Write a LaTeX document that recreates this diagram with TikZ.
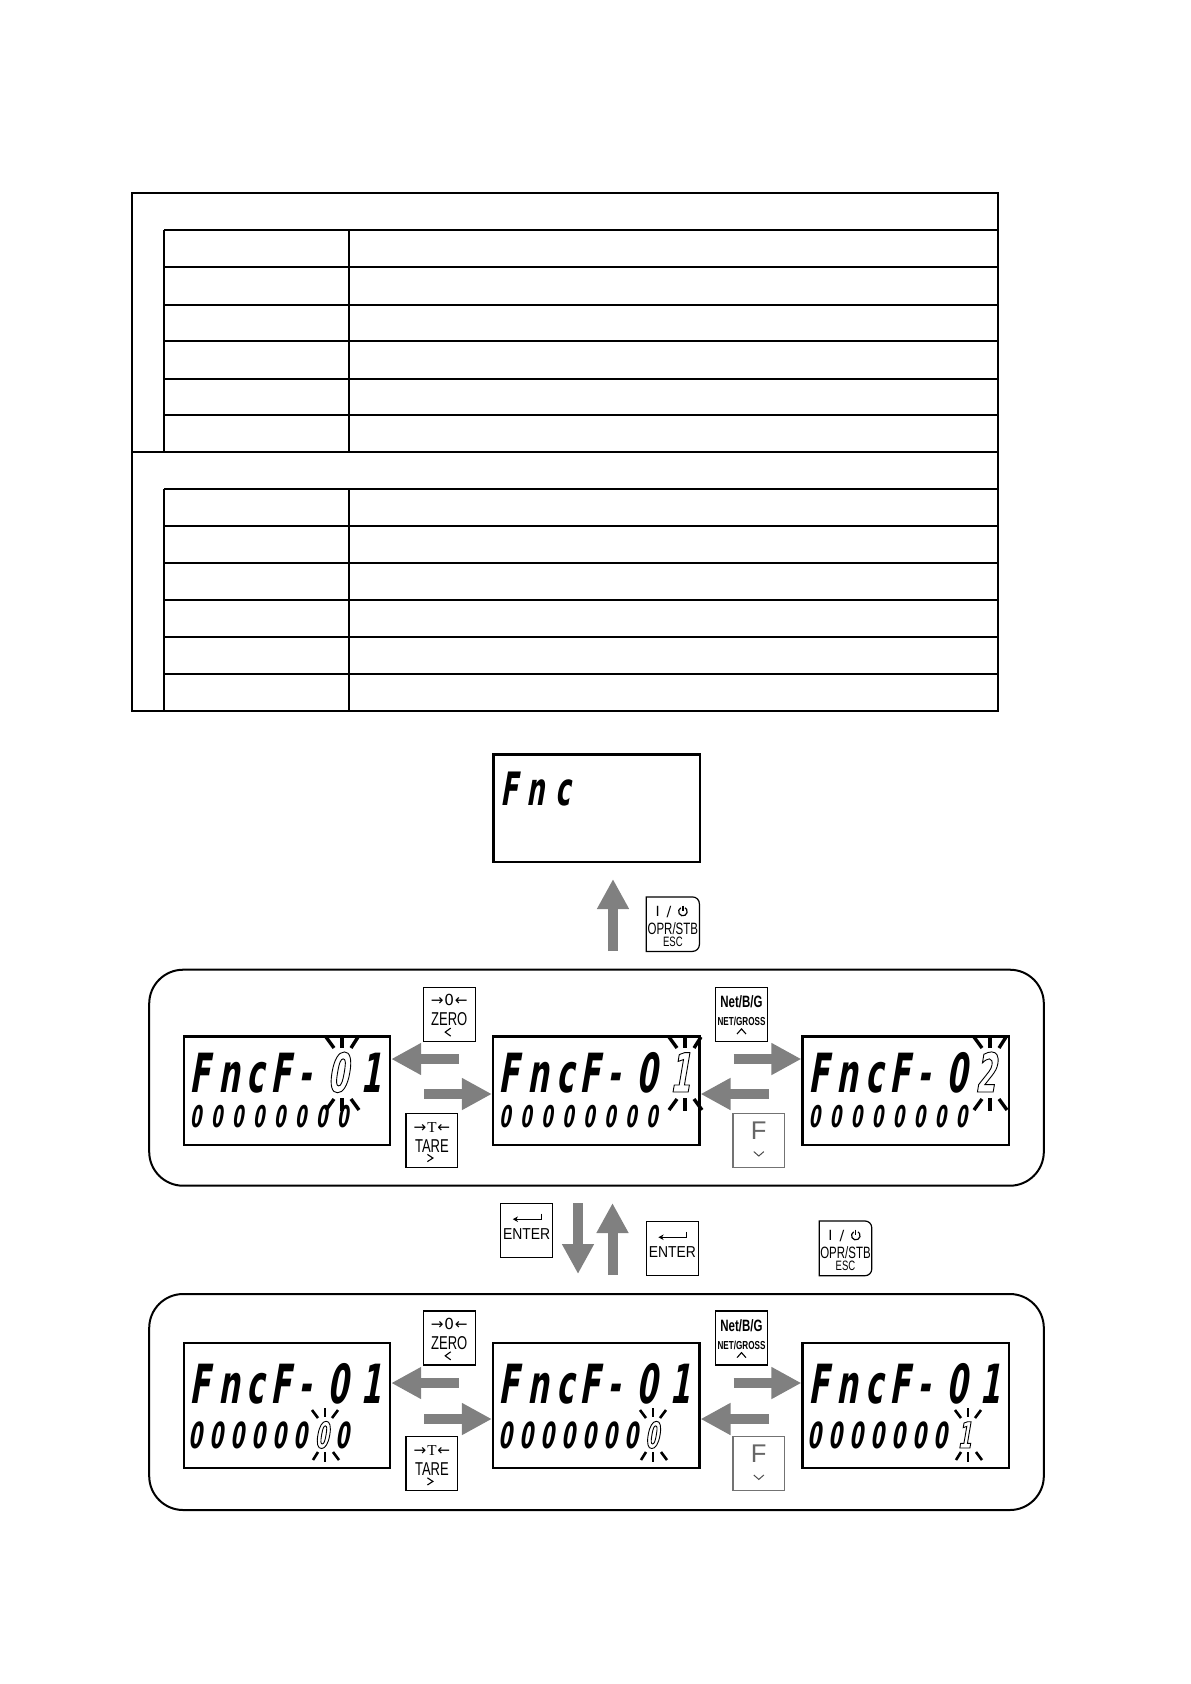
\documentclass[tikz,border=0pt]{standalone}
\usepackage{fontspec}
\setmainfont{Liberation Sans}
\newfontfamily\lcdfont[FakeSlant=0.17,FakeStretch=0.55]{DejaVu Sans}
\newfontfamily\condfont[FakeStretch=0.7]{Liberation Sans}
\newfontfamily\entfont[FakeStretch=0.88]{Liberation Sans}
\newfontfamily\dvfont{DejaVu Sans}
\newfontfamily\serfont{Liberation Serif}
\usetikzlibrary{arrows.meta,calc}
\definecolor{arrgray}{RGB}{128,128,128}
\newcommand\hollowch[1]{\special{pdf:literal direct 1 Tr 0.45 w}#1\special{pdf:literal direct 0 Tr}}
\newcommand\lcdsz[1]{\lcdfont\bfseries\fontsize{#1bp}{#1bp}\selectfont}
\newcommand\fsz[2]{#1\fontsize{#2bp}{#2bp}\selectfont}
\tikzset{
  tbl/.style={line width=1bp},
  lcdbox/.style={draw, line width=1.1bp, inner sep=0pt, minimum width=103.2bp, minimum height=54.2bp, anchor=north west},
  lcdboxtall/.style={lcdbox, minimum height=62.85bp},
  panel/.style={draw, line width=1bp, rounded corners=17bp, inner sep=0pt, minimum width=447.3bp, minimum height=108bp, anchor=north west},
  keybox/.style={draw, line width=0.6bp, inner sep=0pt, minimum width=25.9bp, minimum height=27bp},
  keyarea/.style={inner sep=0pt, minimum width=25.9bp, minimum height=27bp},
  keyline/.style={draw, line width=0.6bp},
  chev/.style={line width=0.55bp},
  garrow/.style={draw=arrgray, line width=5bp, -{Triangle[length=15bp,width=15bp]}},
  lcdbig/.style={font=\lcdsz{27}, inner sep=0pt, anchor=base},
  lcdsmall/.style={font=\lcdsz{15}, inner sep=0pt, anchor=base},
  lcdsmalltall/.style={font=\lcdsz{18}, inner sep=0pt, anchor=base},
  fnctxt/.style={font=\lcdsz{23}, inner sep=0pt, anchor=base},
  ray/.style={line width=1.7bp},
  sray/.style={line width=1.3bp},
  kt/.style={inner sep=0pt, anchor=base},
}
\newcommand\bigrays[3]{%
  \draw[ray] (#1-16,#2-16) -- (#1-8,#2-5);
  \draw[ray] (#1,#2-18) -- (#1,#2-5);
  \draw[ray] (#1+16,#2-16) -- (#1+9,#2-5);
  \draw[ray] (#1-16,#3+17) -- (#1-8,#3+6);
  \draw[ray] (#1,#3+5) -- (#1,#3+18);
  \draw[ray] (#1+9,#3+6) -- (#1+17,#3+17);
}
\newcommand\smallrays[3]{%
  \draw[sray] (#1-13,#2-11) -- (#1-7,#2-3);
  \draw[sray] (#1,#2-13) -- (#1,#2-4);
  \draw[sray] (#1+13,#2-11) -- (#1+7,#2-3);
  \draw[sray] (#1-12,#3+12) -- (#1-7,#3+4);
  \draw[sray] (#1,#3+4) -- (#1,#3+14);
  \draw[sray] (#1+8,#3+4) -- (#1+14,#3+12);
}
\newcommand\zerotext[1]{%
  \node[kt, font=\fsz\dvfont{7.6}] (#1a) at ($(#1.north)+(0,18.8)$) {→\kern0.4bp0\kern0.4bp←};
  \node[kt, font=\fsz\condfont{9.3}] (#1b) at ($(#1.north)+(0,39)$) {ZERO};
  \draw[chev] ($(#1.north)+(1.5,41.5)$) -- ($(#1.north)+(-4,45.5)$) -- ($(#1.north)+(1.5,49.5)$);
}
\newcommand\taretext[1]{%
  \node[kt, font=\fsz\dvfont{7.6}] (#1a) at ($(#1.north)+(0,19.4)$) {→\kern0.4bp{\serfont T}\kern0.4bp←};
  \node[kt, font=\fsz\condfont{9.3}] (#1b) at ($(#1.north)+(0,39.6)$) {TARE};
  \draw[chev] ($(#1.north)+(-4.5,41.8)$) -- ($(#1.north)+(1,45.4)$) -- ($(#1.north)+(-4.5,49)$);
}
\newcommand\nettext[1]{%
  \node[kt, font=\fsz\condfont{8.2}\bfseries] (#1a) at ($(#1.north)+(0,20.7)$) {Net/B/G};
  \node[kt, font=\fsz\condfont{5.8}\bfseries] (#1b) at ($(#1.north)+(0,39)$) {NET/GROSS};
  \draw[chev] ($(#1.north)+(-4.4,47.3)$) -- ($(#1.north)+(0,42.3)$) -- ($(#1.north)+(4.4,47.3)$);
}
\newcommand\ftext[1]{%
  \node[kt, text=black!60, font=\fsz\rmfamily{12.8}] (#1a) at ($(#1.north)+(0,26.5)$) {F};
  \draw[line width=0.5bp, black!70] ($(#1.north)+(-5,39)$) -- ($(#1.north)+(0,43.4)$) -- ($(#1.north)+(5,39)$);
}
\newcommand\entertext[1]{%
  \draw[line width=0.6bp, -{Stealth[length=2.6bp,width=2.8bp]}] ($(#1.north west)+(41,11)$) -- ($(#1.north west)+(41,16.5)$) -- ($(#1.north west)+(12.6,16.5)$);
  \node[kt, font=\fsz\entfont{7.9}] (#1t) at ($(#1.north)+(0,37.2)$) {ENTER};
}
\newcommand\oprkey[1]{%
  \draw[keyline] (#1.north west) -- ($(#1.north east)+(-7,0)$) .. controls ($(#1.north east)+(-3,0)$) and ($(#1.north east)+(0,3)$) .. ($(#1.north east)+(0,7)$) -- ($(#1.south east)+(0,-7)$) .. controls ($(#1.south east)+(0,-3)$) and ($(#1.south east)+(-3,0)$) .. ($(#1.south east)+(-7,0)$) -- (#1.south west) -- cycle;
  \node[kt, anchor=base west, font=\fsz\dvfont{7}] (#1a) at ($(#1.north west)+(8.8,19.4)$) {I\hspace{3.5bp}/};
  \coordinate (#1pw) at ($(#1.north west)+(36.6,14.6)$);
  \draw[line width=0.6bp] (#1pw) ++(-120:4.3) arc[start angle=-120,end angle=-420,radius=4.3];
  \draw[line width=0.6bp] ($(#1pw)+(0,-6)$) -- ($(#1pw)+(0,-0.5)$);
  \node[kt, font=\fsz\condfont{8.2}] (#1b) at ($(#1.north)+(0,37.8)$) {OPR/STB};
  \node[kt, font=\fsz\condfont{6.8}] (#1c) at ($(#1.north)+(0,50)$) {ESC};
}
\begin{document}
\begin{tikzpicture}[x=0.5bp,y=-0.5bp]
\useasboundingbox (0,0) rectangle (1191,1684);
% ---------- table ----------
\draw[tbl] (132.1,193.3) rectangle (997.7,711);
\draw[tbl] (132.1,452.1) -- (997.7,452.1);
\foreach \yy in {229.8,267.2,304.5,341.1,378.5,415.2,488.7,526.1,562.8,600.2,636.9,674.1}
  \draw[tbl] (164,\yy) -- (997.7,\yy);
\draw[tbl] (164,229.8) -- (164,452.1);
\draw[tbl] (349.1,229.8) -- (349.1,452.1);
\draw[tbl] (164,488.7) -- (164,711);
\draw[tbl] (349.1,488.7) -- (349.1,711);
% ---------- Fnc box ----------
\node[lcdbox, minimum width=103.35bp, minimum height=53.85bp] (fnc) at (492.3,753.3) {};
\node[fnctxt] (fnc1) at (509,805) {F};
\node[fnctxt] (fnc2) at (536,805) {n};
\node[fnctxt] (fnc3) at (563,805) {c};
% ---------- OPR key top ----------
\node[keyarea, minimum width=26.15bp, minimum height=26.85bp] (kopr1) at (672.85,924.15) {};
\oprkey{kopr1}
% ---------- panels ----------
\node[panel] (pan1) at (148.2,968.7) {};
\node[panel] (pan2) at (148.2,1293) {};
% ---------- LCD boxes ----------
\node[lcdbox] (A1) at (182.6,1035.3) {};
\node[lcdbox] (B1) at (491.9,1035.3) {};
\node[lcdbox] (C1) at (801.4,1035.3) {};
\node[lcdboxtall] (A2) at (182.6,1341.5) {};
\node[lcdboxtall] (B2) at (491.9,1341.5) {};
\node[lcdboxtall] (C2) at (801.4,1341.5) {};
% ---------- keys ----------
\node[keybox] (kzero1) at (449.2,1014.2) {};  \zerotext{kzero1}
\node[keybox] (ktare1) at (431.9,1140.2) {};  \taretext{ktare1}
\node[keybox] (knet1) at (741.5,1014.2) {};   \nettext{knet1}
\node[keybox, draw=black!55] (kf1) at (758.8,1140.2) {}; \ftext{kf1}
\node[keybox] (kzero2) at (449.2,1337.9) {};  \zerotext{kzero2}
\node[keybox] (ktare2) at (431.9,1463.6) {};  \taretext{ktare2}
\node[keybox] (knet2) at (741.5,1337.9) {};   \nettext{knet2}
\node[keybox, draw=black!55] (kf2) at (758.8,1463.6) {}; \ftext{kf2}
\node[keybox] (kent1) at (526.7,1230.3) {};   \entertext{kent1}
\node[keybox] (kent2) at (672.35,1248.35) {}; \entertext{kent2}
\node[keyarea] (kopr2) at (845.5,1248.35) {};
\oprkey{kopr2}
% ---------- gray arrows ----------
\coordinate (up0t) at (613,951);
\coordinate (up0h) at (613,879);
\draw[garrow] (up0t) -- (up0h);
\coordinate (dn1t) at (578,1203);
\coordinate (dn1h) at (578,1274);
\draw[garrow] (dn1t) -- (dn1h);
\coordinate (up1t) at (612.5,1275);
\coordinate (up1h) at (612.5,1203);
\draw[garrow] (up1t) -- (up1h);
\coordinate (r1a) at (458.5,1059);
\draw[garrow] (r1a) -- (r1a -| A1.east);
\coordinate (r1b) at (424,1094);
\draw[garrow] (r1b) -- (r1b -| B1.west);
\coordinate (r1c) at (733.5,1059);
\draw[garrow] (r1c) -- (r1c -| C1.west);
\coordinate (r1d) at (769,1094);
\draw[garrow] (r1d) -- (r1d -| B1.east);
\coordinate (r2a) at (458.5,1383);
\draw[garrow] (r2a) -- (r2a -| A2.east);
\coordinate (r2b) at (424,1419);
\draw[garrow] (r2b) -- (r2b -| B2.west);
\coordinate (r2c) at (733.5,1383);
\draw[garrow] (r2c) -- (r2c -| C2.west);
\coordinate (r2d) at (769,1419);
\draw[garrow] (r2d) -- (r2d -| B2.east);
% ---------- LCD text row 1 ----------
\foreach \ch/\dx [count=\k] in {F/17,n/46,c/73,F/98,-/122}
  \node[lcdbig] (A1t\k) at (182.6+\dx,1092) {\ch};
\node[lcdbig] (A1t7) at (182.6+188,1092) {1};
\foreach \ch/\dx [count=\k] in {F/17,n/46,c/73,F/98,-/122,0/155}
  \node[lcdbig] (B1t\k) at (491.9+\dx,1092) {\ch};
\foreach \ch/\dx [count=\k] in {F/17,n/46,c/73,F/98,-/122,0/155}
  \node[lcdbig] (C1t\k) at (801.4+\dx,1092) {\ch};
\foreach \i in {0,...,7} {
  \node[lcdsmall] (A1b\i) at (182.6+13+21*\i,1127) {0};
  \node[lcdsmall] (B1b\i) at (491.9+13+21*\i,1127) {0};
  \node[lcdsmall] (C1b\i) at (801.4+13+21*\i,1127) {0};
}
% ---------- LCD text row 2 ----------
\foreach \ch/\dx [count=\k] in {F/17,n/46,c/73,F/98,-/122,0/155,1/188} {
  \node[lcdbig] (A2t\k) at (182.6+\dx,1403) {\ch};
  \node[lcdbig] (B2t\k) at (491.9+\dx,1403) {\ch};
  \node[lcdbig] (C2t\k) at (801.4+\dx,1403) {\ch};
}
\foreach \i in {0,...,5,7}
  \node[lcdsmalltall] (A2b\i) at (182.6+13+21*\i,1448) {0};
\foreach \i in {0,...,6} {
  \node[lcdsmalltall] (B2b\i) at (491.9+13+21*\i,1448) {0};
  \node[lcdsmalltall] (C2b\i) at (801.4+13+21*\i,1448) {0};
}
% ---------- blink rays ----------
\bigrays{342}{1053}{1093}
\bigrays{685}{1053}{1093}
\bigrays{990}{1053}{1093}
\smallrays{325}{1421}{1448}
\smallrays{653}{1421}{1448}
\smallrays{968}{1421}{1448}
% ---------- blinking (hollow) digits ----------
\node[lcdbig] (A1t6) at (182.6+155,1092) {\hollowch{0}};
\node[lcdbig] (B1t7) at (491.9+188,1092) {\hollowch{1}};
\node[lcdbig] (C1t7) at (801.4+184,1092) {\hollowch{2}};
\node[lcdsmalltall] (A2b6) at (182.6+13+21*6,1448) {\hollowch{0}};
\node[lcdsmalltall] (B2b7) at (491.9+13+21*7,1448) {\hollowch{0}};
\node[lcdsmalltall] (C2b7) at (801.4+163,1448) {\hollowch{1}};
\end{tikzpicture}
\end{document}
